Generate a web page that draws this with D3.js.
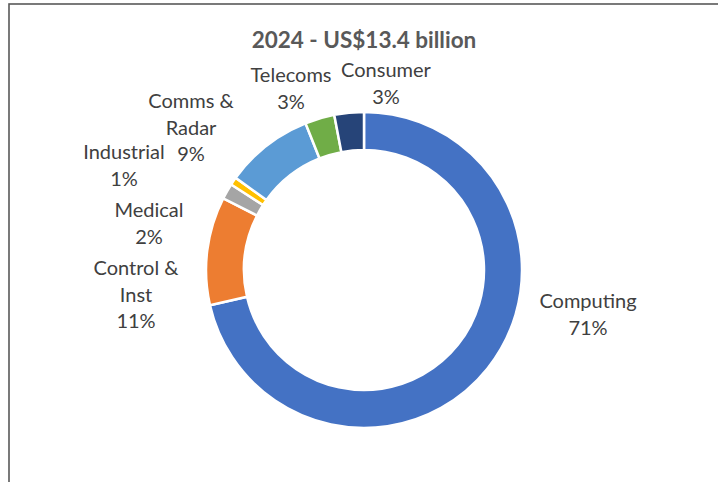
<!DOCTYPE html>
<html><head><meta charset="utf-8">
<script src="https://cdn.jsdelivr.net/npm/d3@7"></script>
<style>html,body{margin:0;padding:0;background:#fff;overflow:hidden}</style>
</head><body>
<svg id="c" width="718" height="482"></svg>
<script>
const title = "2024 - US$13.4 billion";
const categories = ["Computing", "Control & Inst", "Medical", "Industrial", "Comms & Radar", "Telecoms", "Consumer"];
const values = [71, 11, 1.6, 0.8, 9, 3, 3];
const pctLabels = ["71%", "11%", "2%", "1%", "9%", "3%", "3%"];
const labelLines = [["Computing"], ["Control &", "Inst"], ["Medical"], ["Industrial"], ["Comms &", "Radar"], ["Telecoms"], ["Consumer"]];
const colors = ["#4472C4", "#ED7D31", "#A5A5A5", "#FFC000", "#5B9BD5", "#70AD47", "#264478"];

// layout (label anchor points: center x, first baseline y)
const labelAnchors = [[588, 308], [136, 275], [149, 217], [124, 159], [191, 108], [291, 82], [386, 77]];
const cx = 364, cy = 270, rOuter = 158, rInner = 120, lineH = 26.5;

const svg = d3.select("#c");
svg.append("rect").attr("x", 9).attr("y", 4).attr("width", 900).attr("height", 700)
  .attr("fill", "none").attr("stroke", "#595959").attr("stroke-width", 1.6);

svg.append("text").attr("x", cx).attr("y", 48).attr("text-anchor", "middle")
  .attr("font-family", "Lato, 'Open Sans', sans-serif").attr("font-weight", "bold")
  .attr("font-size", 22.5).attr("fill", "#595959").text(title);

const pie = d3.pie().sort(null).value(d => d)(values);
const arc = d3.arc().innerRadius(rInner).outerRadius(rOuter);
const g = svg.append("g").attr("transform", `translate(${cx},${cy})`);
g.selectAll("path").data(pie).join("path")
  .attr("d", arc).attr("fill", (d, i) => colors[i])
  .attr("stroke", "#fff").attr("stroke-width", 2.5);

categories.forEach((c, i) => {
  const lines = labelLines[i].concat([pctLabels[i]]);
  const t = svg.append("text").attr("text-anchor", "middle")
    .attr("font-family", "Lato, 'Open Sans', sans-serif").attr("font-size", 20)
    .attr("fill", "#404040");
  lines.forEach((l, k) => {
    t.append("tspan").attr("x", labelAnchors[i][0]).attr("y", labelAnchors[i][1] + k * lineH).text(l);
  });
});
</script>
</body></html>
